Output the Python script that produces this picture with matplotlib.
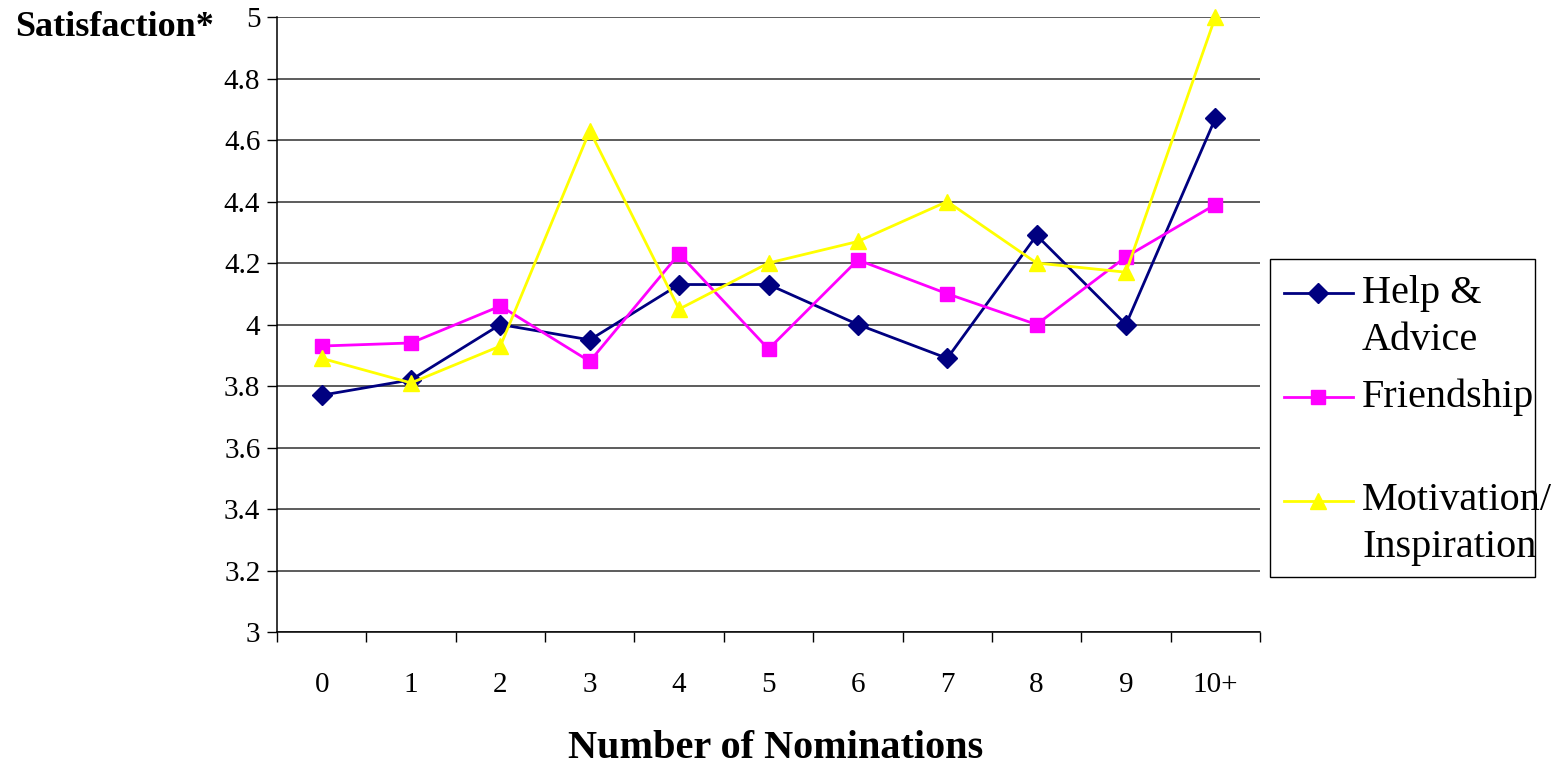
import numpy as np
import matplotlib.pyplot as plt
from matplotlib.lines import Line2D
from matplotlib.patches import Rectangle

plt.rcParams['font.family'] = ['Liberation Serif', 'DejaVu Serif']

categories = ['0', '1', '2', '3', '4', '5', '6', '7', '8', '9', '10+']
help_advice = [3.77, 3.82, 4.00, 3.95, 4.13, 4.13, 4.00, 3.89, 4.29, 4.00, 4.67]
friendship = [3.93, 3.94, 4.06, 3.88, 4.23, 3.92, 4.21, 4.10, 4.00, 4.22, 4.39]
motivation = [3.89, 3.81, 3.93, 4.63, 4.05, 4.20, 4.27, 4.40, 4.20, 4.17, 5.00]

series = [
    (['Help &', 'Advice'], help_advice, '#000080', 'D', 10),
    (['Friendship'], friendship, '#FF00FF', 's', 9.5),
    (['Motivation/', 'Inspiration'], motivation, '#FFFF00', '^', 12),
]

W, H = 1560, 767
fig = plt.figure(figsize=(W / 100, H / 100), dpi=100)
ax = fig.add_axes([277 / W, 1 - 632 / H, (1260 - 277) / W, (632 - 17) / H])

x = np.arange(len(categories))
for labels, vals, c, m, ms in series:
    ax.plot(x, vals, color=c, marker=m, markersize=ms, linewidth=2,
            markeredgecolor=c, clip_on=False, zorder=3)

ax.set_xlim(-0.5, len(categories) - 0.5)
ax.set_ylim(3, 5)
ax.set_yticks(np.arange(3, 5.01, 0.2))
ax.set_yticklabels(['3', '3.2', '3.4', '3.6', '3.8', '4', '4.2', '4.4', '4.6', '4.8', '5'])
ax.yaxis.grid(True, color='#303030', linewidth=1.1)
ax.set_axisbelow(True)

ax.set_xticks(x)
ax.set_xticklabels(categories)
ax.set_xticks(np.arange(-0.5, len(categories), 1), minor=True)
ax.tick_params(axis='x', which='major', length=0, pad=29, labelsize=21)
ax.tick_params(axis='x', which='minor', length=7, width=1, color='black')
ax.tick_params(axis='y', length=7, width=1, pad=5, labelsize=21)

for s in ['top', 'right']:
    ax.spines[s].set_visible(False)
for s in ['left', 'bottom']:
    ax.spines[s].set_linewidth(1.1)

fig.text(776 / W, 1 - 748 / H, 'Number of Nominations', fontsize=29,
         fontweight='bold', va='center', ha='center')
fig.text(15 / W, 1 - 28 / H, 'Satisfaction*', fontsize=26, fontweight='bold',
         va='center', ha='left')

# legend drawn by hand to keep the key on the first text line
fig.add_artist(Rectangle((1270 / W, 1 - 577 / H), (1535 - 1270) / W, (577 - 259) / H,
                         transform=fig.transFigure, fill=False, edgecolor='black',
                         linewidth=1))
rows = [293, 397, 501]
for (labels, vals, c, m, ms), ry in zip(series, rows):
    yf = 1 - ry / H
    fig.add_artist(Line2D([1284 / W, 1353 / W], [yf, yf], transform=fig.transFigure,
                          color=c, linewidth=2))
    fig.add_artist(Line2D([1318 / W], [yf], transform=fig.transFigure, color=c,
                          marker=m, markersize=ms, markeredgecolor=c))
    for i, t in enumerate(labels):
        fig.text(1362 / W, 1 - (ry + i * 47) / H, t, fontsize=29, va='center', ha='left')

fig.savefig('out.png', dpi=100)
